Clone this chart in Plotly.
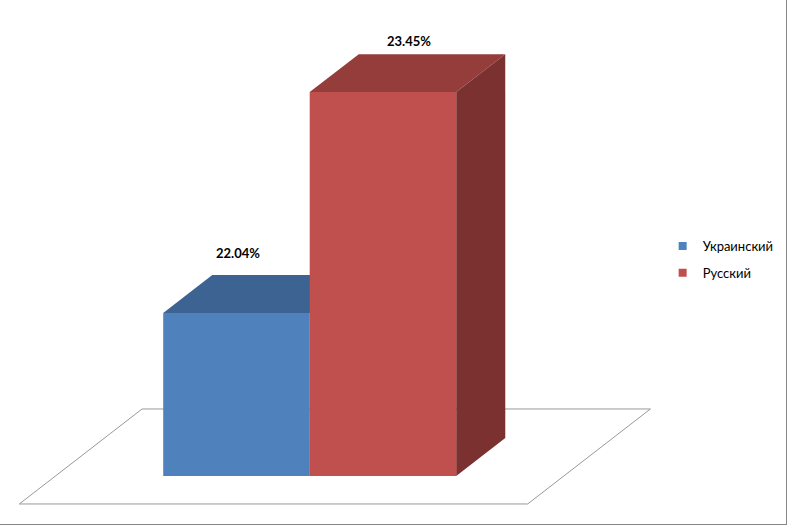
import plotly.graph_objects as go

# Data
languages = ["Украинский", "Русский"]
shares = [22.04, 23.45]
front_colors = ["#4F81BD", "#C0504D"]
top_colors = ["#3C6391", "#943D3A"]
side_colors = ["#365A84", "#7B3130"]

# Oblique 3D projection settings (axis units)
BASE = 21.0          # value axis minimum (bars start here)
BAR_W = 1.0          # bar width in x units
DEPTH_DX = 0.335     # x shift of one bar depth
DEPTH_DY = 0.2425    # value shift of one bar depth
FLOOR_FRONT = -0.737 # floor front edge, in bar depths
FLOOR_BACK = 1.763   # floor back edge, in bar depths
FLOOR_PAD = 0.735    # floor overhang left/right of the bars

FONT = "Lato, 'Liberation Sans', sans-serif"


def shift(x, y, d):
    """Move a point d bar-depths back into the chart."""
    return x + DEPTH_DX * d, y + DEPTH_DY * d


fig = go.Figure()

# Floor parallelogram
x_left = -BAR_W / 2 - FLOOR_PAD
x_right = (len(shares) - 1) + BAR_W / 2 + FLOOR_PAD
corners = [
    shift(x_left, BASE, FLOOR_FRONT),
    shift(x_right, BASE, FLOOR_FRONT),
    shift(x_right, BASE, FLOOR_BACK),
    shift(x_left, BASE, FLOOR_BACK),
    shift(x_left, BASE, FLOOR_FRONT),
]
fig.add_trace(
    go.Scatter(
        x=[c[0] for c in corners],
        y=[c[1] for c in corners],
        mode="lines",
        line=dict(color="#999999", width=1),
        fill="toself",
        fillcolor="white",
        hoverinfo="skip",
        showlegend=False,
    )
)

# Bars: top, side, front faces
for i, (lang, val) in enumerate(zip(languages, shares)):
    x0, x1 = i - BAR_W / 2, i + BAR_W / 2

    top = [(x0, val), (x1, val), shift(x1, val, 1), shift(x0, val, 1), (x0, val)]
    fig.add_trace(
        go.Scatter(
            x=[p[0] for p in top], y=[p[1] for p in top],
            mode="lines", line=dict(width=0), fill="toself",
            fillcolor=top_colors[i], hoverinfo="skip", showlegend=False,
        )
    )

    side = [(x1, BASE), (x1, val), shift(x1, val, 1), shift(x1, BASE, 1), (x1, BASE)]
    fig.add_trace(
        go.Scatter(
            x=[p[0] for p in side], y=[p[1] for p in side],
            mode="lines", line=dict(width=0), fill="toself",
            fillcolor=side_colors[i], hoverinfo="skip", showlegend=False,
        )
    )

    front = [(x0, BASE), (x1, BASE), (x1, val), (x0, val), (x0, BASE)]
    fig.add_trace(
        go.Scatter(
            x=[p[0] for p in front], y=[p[1] for p in front],
            mode="lines", line=dict(width=0), fill="toself",
            fillcolor=front_colors[i], name=lang,
            hovertemplate=f"{lang}: {val:.2f}%<extra></extra>",
            showlegend=False,
        )
    )

    # Legend entry
    fig.add_trace(
        go.Scatter(
            x=[None], y=[None], mode="markers", name=lang,
            marker=dict(symbol="square", size=8, color=front_colors[i]),
            legendgroup=lang,
        )
    )

# Data labels
label_dx = [0.01, 0.18]
label_dy = [12, 3]
annotations = []
for i, val in enumerate(shares):
    lx, ly = shift(i, val, 1)
    annotations.append(
        dict(
            x=i + label_dx[i], y=ly, xref="x", yref="y",
            text=f"<b>{val:.2f}%</b>", showarrow=False,
            yanchor="bottom", yshift=label_dy[i],
            font=dict(family=FONT, size=13, color="black"),
        )
    )

fig.update_layout(
    width=787,
    height=525,
    margin=dict(l=0, r=0, t=0, b=0),
    paper_bgcolor="white",
    plot_bgcolor="white",
    xaxis=dict(range=[-1.614, 3.758], visible=False, fixedrange=True),
    yaxis=dict(range=[20.687, 24.038], visible=False, fixedrange=True),
    legend=dict(
        x=0.842, y=0.56, xanchor="left", yanchor="top",
        font=dict(family=FONT, size=13, color="black"),
        tracegroupgap=7,
        bgcolor="rgba(0,0,0,0)",
    ),
    annotations=annotations,
    shapes=[
        dict(type="line", xref="paper", yref="paper",
             x0=0.99936, x1=0.99936, y0=0, y1=1,
             line=dict(color="#868686", width=1)),
        dict(type="line", xref="paper", yref="paper",
             x0=0, x1=1, y0=0.00095, y1=0.00095,
             line=dict(color="#868686", width=1)),
    ],
    showlegend=True,
)

# drop the page's default body margin so the chart sits at the window origin
fig.write_html(
    "out.html",
    config={"displayModeBar": False},
    post_script="document.body.style.margin='0';",
)
